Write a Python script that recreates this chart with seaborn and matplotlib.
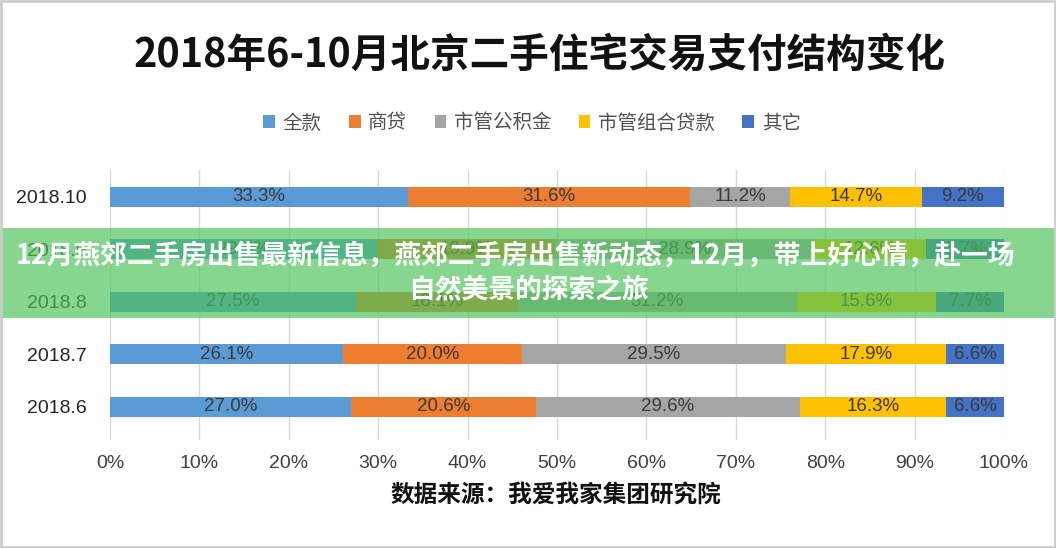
import matplotlib
matplotlib.use("Agg")
import matplotlib.pyplot as plt
import seaborn as sns
import pandas as pd
from matplotlib.patches import Rectangle

# ---------------- data ----------------
months = ["2018.10", "2018.9", "2018.8", "2018.7", "2018.6"]
series_names = ["全款", "商贷", "市管公积金", "市管组合贷款", "其它"]
full_pay = [33.3, 29.9, 27.5, 26.1, 27.0]
commercial = [31.6, 19.9, 18.1, 20.0, 20.6]
provident = [11.2, 28.9, 31.2, 29.5, 29.6]
combo = [14.7, 12.6, 15.6, 17.9, 16.3]
other = [9.2, 8.7, 7.7, 6.6, 6.6]
x_ticks = [0, 10, 20, 30, 40, 50, 60, 70, 80, 90, 100]
x_tick_labels = [f"{t}%" for t in x_ticks]
title = "2018年6-10月北京二手住宅交易支付结构变化"
source = "数据来源：我爱我家集团研究院"
banner_lines = ["12月燕郊二手房出售最新信息，燕郊二手房出售新动态，12月，带上好心情，赴一场",
                "自然美景的探索之旅"]
colors = ["#5B9BD5", "#ED7D31", "#A5A5A5", "#FFC000", "#4472C4"]

# ---------------- build table ----------------
values = [full_pay, commercial, provident, combo, other]
rows = []
for j, m in enumerate(months):
    cum = 0.0
    for i, name in enumerate(series_names):
        v = values[i][j]
        cum += v
        rows.append({"month": m, "series": name, "value": v, "end": cum})
df = pd.DataFrame(rows)

sns.set_theme(style="white")
plt.rcParams["font.family"] = ["Noto Sans CJK SC", "DejaVu Sans"]

fig = plt.figure(figsize=(10.56, 5.48), dpi=100)
W, H = 1056, 548
ax = fig.add_axes([110 / W, 1 - 440 / H, (1004 - 110) / W, (440 - 170) / H])

# painter's algorithm: draw cumulative ends from the last series to the first
for i in reversed(range(len(series_names))):
    sub = df[df["series"] == series_names[i]]
    sns.barplot(data=sub, x="end", y="month", order=months, color=colors[i],
                width=0.38, orient="h", errorbar=None, ax=ax, saturation=1,
                linewidth=0)

for _, r in df.iterrows():
    j = months.index(r["month"])
    ax.text(r["end"] - r["value"] / 2, j, f"{r['value']:.1f}%", ha="center", va="center",
            fontsize=13.5, color="#3a3a3a", family=["Liberation Sans", "DejaVu Sans"])

ax.set_xlim(0, 100)
ax.set_ylim(4 + 0.63, -0.51)
ax.set_xticks(x_ticks)
ax.set_xticklabels(x_tick_labels, family=["Liberation Sans", "DejaVu Sans"], fontsize=14, color="#404040")
ax.set_yticks(range(len(months)))
ax.set_yticklabels(months, family=["Liberation Sans", "DejaVu Sans"], fontsize=14, color="#262626")
ax.tick_params(axis="x", length=0, pad=11)
ax.tick_params(axis="y", length=0, pad=17)
ax.set_xlabel("")
ax.set_ylabel("")
ax.grid(axis="x", color="#d9d9d9", linewidth=1)
ax.set_axisbelow(True)
for s in ax.spines.values():
    s.set_visible(False)

# title
fig.text(540 / W, 1 - 55 / H, title, ha="center", va="center", fontsize=28.5,
         fontweight="heavy", color="#111111")

# legend
handles = [Rectangle((0, 0), 1, 1, facecolor=c, edgecolor="none") for c in colors]
fig.legend(handles, series_names, loc="center", bbox_to_anchor=(532 / W, 1 - 123 / H),
           ncol=5, frameon=False, fontsize=14, handlelength=0.6, handleheight=0.6,
           handletextpad=0.4, columnspacing=1.4, labelcolor="#505050")

# source line
fig.text(556 / W, 1 - 495 / H, source, ha="center", va="center", fontsize=17,
         fontweight="bold", color="#111111")

# banner overlay
fig.add_artist(Rectangle((0, 1 - 318 / H), 1, 90 / H, transform=fig.transFigure,
                         facecolor="#4BC35A", alpha=0.67, edgecolor="none", zorder=10))
fig.text(515 / W, 1 - 256 / H, banner_lines[0], ha="center", va="center", fontsize=19.3,
         fontweight="bold", color="white", zorder=11)
fig.text(528 / W, 1 - 290 / H, banner_lines[1], ha="center", va="center", fontsize=19.3,
         fontweight="bold", color="white", zorder=11)

# frame
fig.add_artist(Rectangle((0.001, 0.002), 0.998, 0.996, transform=fig.transFigure,
                         fill=False, edgecolor="#cccccc", linewidth=2, zorder=12))

fig.savefig("out.png", dpi=100)
